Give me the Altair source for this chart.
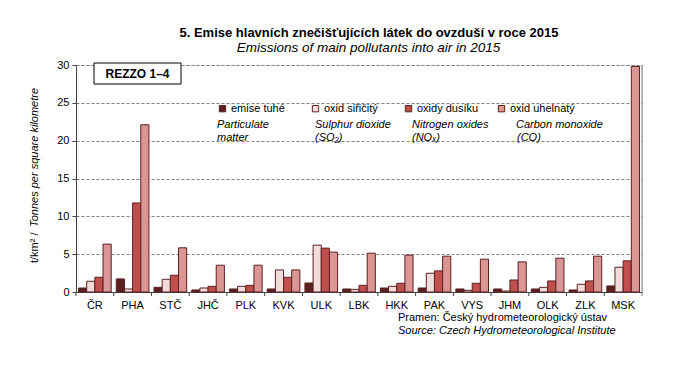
import altair as alt
import pandas as pd

regions = ["ČR", "PHA", "STČ", "JHČ", "PLK", "KVK", "ULK", "LBK", "HKK", "PAK", "VYS", "JHM", "OLK", "ZLK", "MSK"]
series = ["emise tuhé", "oxid siřičitý", "oxidy dusíku", "oxid uhelnatý"]
colors = ["#5b2121", "#f2dcdb", "#c0504d", "#d99694"]

pm = [0.53, 1.73, 0.62, 0.27, 0.40, 0.40, 1.19, 0.40, 0.53, 0.53, 0.40, 0.40, 0.40, 0.27, 0.80]
so2 = [1.42, 0.40, 1.68, 0.53, 0.75, 2.92, 6.19, 0.35, 0.75, 2.48, 0.22, 0.13, 0.62, 1.02, 3.27]
nox = [1.95, 11.77, 2.21, 0.75, 0.88, 1.95, 5.80, 0.88, 1.15, 2.79, 1.15, 1.59, 1.46, 1.46, 4.12]
co = [6.33, 22.10, 5.84, 3.54, 3.54, 2.92, 5.27, 5.13, 4.87, 4.73, 4.34, 3.98, 4.47, 4.73, 29.80]

y_ticks = [0, 5, 10, 15, 20, 25, 30]
english = ["Particulate", "matter", "Sulphur dioxide", "(SO₂)", "Nitrogen oxides", "(NOₓ)", "Carbon monoxide", "(CO)"]

rows = []
for s, vals in zip(series, [pm, so2, nox, co]):
    for r, v in zip(regions, vals):
        rows.append({"region": r, "series": s, "value": v})
df = pd.DataFrame(rows)

W, H = 566, 227
FONT = "Liberation Sans"
one = pd.DataFrame({"a": [0]})

xscale = alt.Scale(domain=regions, paddingInner=0, paddingOuter=0)

bars = alt.Chart(df).mark_bar(stroke="#5b2121", strokeWidth=1).encode(
    x=alt.X("region:N", sort=regions, scale=xscale,
            axis=alt.Axis(title=None, labelAngle=0, ticks=False, labelFontSize=11,
                          labelColor="#000", labelFont=FONT, labelPadding=7,
                          domainColor="#404040")),
    xOffset=alt.XOffset("series:N", sort=series,
                        scale=alt.Scale(domain=series, paddingInner=0, paddingOuter=0.31)),
    y=alt.Y("value:Q", scale=alt.Scale(domain=[0, 30]),
            axis=alt.Axis(title=None, values=y_ticks, grid=True, gridDash=[3, 2],
                          gridColor="#808080", tickSize=4, tickColor="#404040",
                          domainColor="#404040", labelFontSize=11, labelColor="#000",
                          labelFont=FONT, labelPadding=3)),
    color=alt.Color("series:N", sort=series,
                    scale=alt.Scale(domain=series, range=colors),
                    legend=alt.Legend(title=None, orient="none", legendX=141, legendY=38,
                                      direction="horizontal", columns=4, gridAlign="all",
                                      columnPadding=14, padding=0, symbolType="square",
                                      symbolSize=40, symbolStrokeColor="#5b2121",
                                      symbolStrokeWidth=1, symbolOpacity=1, labelFontSize=11,
                                      labelFont=FONT, labelColor="#000", labelOffset=3)),
)

ticks = alt.Chart(pd.DataFrame({"region": regions})).mark_rule(color="#404040").encode(
    x=alt.X("region:N", sort=regions, scale=xscale, bandPosition=0),
    y=alt.value(H), y2=alt.value(H + 4),
)

right_border = alt.Chart(one).mark_rule(color="#808080").encode(
    x=alt.value(W), y=alt.value(0), y2=alt.value(H + 4)
)

def txt(t, x, y, size=11, weight="normal", style="normal", align="left", angle=0, baseline="middle"):
    return alt.Chart(one).mark_text(
        text=t, fontSize=size, fontWeight=weight, fontStyle=style, align=align,
        baseline=baseline, font=FONT, color="#000", angle=angle
    ).encode(x=alt.value(x), y=alt.value(y))

box = alt.Chart(one).mark_rect(fill="white", stroke="#000", strokeWidth=1).encode(
    x=alt.value(18), x2=alt.value(105), y=alt.value(-2), y2=alt.value(19)
)

layers = [
    bars, ticks, right_border, box,
    txt("REZZO 1–4", 61.5, 8.5, size=12, weight="bold", align="center"),
    txt("5. Emise hlavních znečišťujících látek do ovzduší v roce 2015", 293, -32, size=13,
        weight="bold", align="center"),
    txt("Emissions of main pollutants into air in 2015", 292.5, -17, size=13.5, style="italic",
        align="center"),
    txt(english[0], 141, 60, size=11, style="italic"),
    txt(english[1], 141, 73, size=11, style="italic"),
    txt(english[2], 239, 60, size=11, style="italic"),
    txt(english[3], 239, 73, size=11, style="italic"),
    txt(english[4], 336, 60, size=11, style="italic"),
    txt(english[5], 336, 73, size=11, style="italic"),
    txt(english[6], 440, 60, size=11, style="italic"),
    txt(english[7], 441, 73, size=11, style="italic"),
    txt("Pramen: Český hydrometeorologický ústav", 322, 253, size=11),
    txt("Source: Czech Hydrometeorological Institute", 322, 266, size=11, style="italic"),
    txt("t/km²  /", -41, 198, size=11, angle=270),
    txt("Tonnes per square kilometre", -41, 162, size=11, style="italic", angle=270),
]

chart = alt.layer(*layers).properties(
    width=W, height=H,
    autosize=alt.AutoSizeParams(type="none"),
    padding={"left": 76, "top": 65, "right": 35, "bottom": 85},
).configure_view(stroke=None).configure(background="white")

chart.save("out.html", embed_options={"renderer": "svg", "actions": False})
